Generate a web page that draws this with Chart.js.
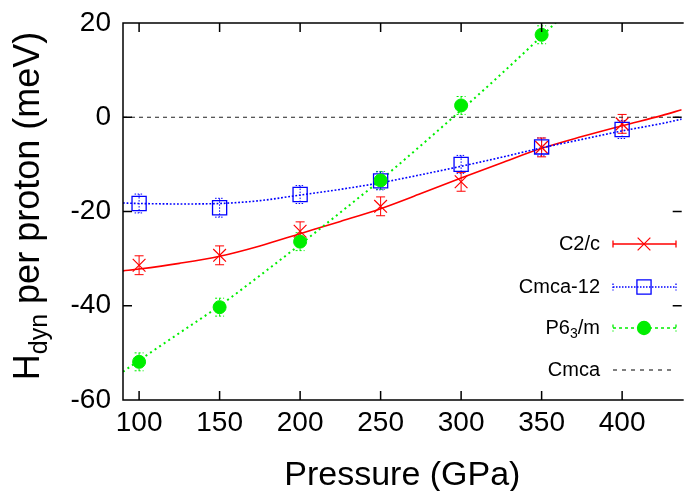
<!DOCTYPE html>
<html>
<head>
<meta charset="utf-8">
<script src="https://cdn.jsdelivr.net/npm/chart.js@4.4.1/dist/chart.umd.min.js"></script>
<style>
  html, body { margin: 0; padding: 0; background: #fff; }
</style>
</head>
<body>
<canvas id="chart" width="693" height="491"></canvas>
<script>
// measured points with error bars
const pressures = [100, 150, 200, 250, 300, 350, 400];
const c2cValues = [-31.4, -29.3, -24.2, -18.9, -13.7, -6.4, -1.4];
const c2cErrors = [2.0, 2.0, 2.0, 2.0, 2.0, 2.0, 2.0];
const cmca12Values = [-18.3, -19.2, -16.4, -13.5, -10.0, -6.3, -2.6];
const cmca12Errors = [2.0, 2.0, 1.9, 1.9, 1.9, 1.9, 1.9];
const p63mPressures = [100, 150, 200, 250, 300, 350];
const p63mValues = [-51.9, -40.3, -26.4, -13.4, 2.5, 17.5];
const p63mErrors = [1.9, 1.9, 1.9, 1.9, 1.9, 1.9];

// fitted curves
const fitPressures = [90, 100, 125, 150, 175, 200, 225, 250, 275, 300, 325, 350, 375, 400, 425, 437];
const c2cFit = [-32.6, -32.2, -31.0, -29.5, -27.3, -24.7, -22.1, -19.4, -16.2, -12.9, -9.7, -6.6, -4.1, -1.8, 0.4, 1.6];
const cmca12Fit = [-18.2, -18.3, -18.4, -18.3, -17.7, -16.5, -15.3, -13.9, -12.2, -10.4, -8.5, -6.5, -4.7, -2.9, -1.3, -0.4];
const p63mFitPressures = [90, 100, 125, 150, 175, 200, 225, 250, 275, 300, 325, 350, 360];
const p63mFit = [-54.0, -51.6, -45.8, -40.0, -33.6, -27.0, -20.2, -13.3, -6.0, 1.5, 9.2, 17.2, 20.5];

// Cmca reference level
const cmcaLevel = 0;

const xTicks = [100, 150, 200, 250, 300, 350, 400];
const yTicks = [-60, -40, -20, 0, 20];
const xMin = 90, xMax = 437;
const yMin = -60, yMax = 20;

const FONT = "'Liberation Sans', Arial, Helvetica, sans-serif";
const RED = '#ff0000';
const BLUE = '#0000ff';
const GREEN = '#00ee00';

function pts(xs, ys) {
    return xs.map((x, i) => ({ x: x, y: ys[i] }));
}

// error bars under the markers
const errorBarPlugin = {
    id: 'errorBars',
    beforeDatasetsDraw(chart) {
        const { ctx, chartArea: a, scales: { x, y } } = chart;
        ctx.save();
        ctx.beginPath();
        ctx.rect(a.left, a.top, a.right - a.left, a.bottom - a.top);
        ctx.clip();
        chart.data.datasets.forEach(ds => {
            if (!ds.errors) return;
            ctx.strokeStyle = ds.borderColor;
            ctx.lineWidth = 1;
            ctx.setLineDash(ds.errorDash || []);
            ds.data.forEach((p, i) => {
                const px = x.getPixelForValue(p.x);
                const top = y.getPixelForValue(p.y + ds.errors[i]);
                const bot = y.getPixelForValue(p.y - ds.errors[i]);
                ctx.beginPath();
                ctx.moveTo(px, top); ctx.lineTo(px, bot);
                ctx.moveTo(px - 4.5, top); ctx.lineTo(px + 4.5, top);
                ctx.moveTo(px - 4.5, bot); ctx.lineTo(px + 4.5, bot);
                ctx.stroke();
            });
        });
        ctx.restore();
    }
};

// frame with inward ticks, titles and the key
const decorPlugin = {
    id: 'decor',
    afterDraw(chart) {
        const { ctx, chartArea: a, scales: { x, y } } = chart;
        ctx.save();
        ctx.strokeStyle = '#000';
        ctx.lineWidth = 1.5;
        ctx.setLineDash([]);
        ctx.beginPath();
        ctx.moveTo(a.right + 2, a.top); ctx.lineTo(a.left, a.top);
        ctx.lineTo(a.left, a.bottom); ctx.lineTo(a.right + 2, a.bottom);
        xTicks.forEach(v => {
            const px = x.getPixelForValue(v);
            ctx.moveTo(px, a.bottom); ctx.lineTo(px, a.bottom - 9);
            ctx.moveTo(px, a.top); ctx.lineTo(px, a.top + 9);
        });
        yTicks.forEach(v => {
            const py = y.getPixelForValue(v);
            ctx.moveTo(a.left, py); ctx.lineTo(a.left + 9, py);
            ctx.moveTo(a.right, py); ctx.lineTo(a.right - 9, py);
        });
        ctx.stroke();

        // axis titles
        ctx.fillStyle = '#000';
        ctx.textBaseline = 'alphabetic';
        ctx.textAlign = 'center';
        ctx.font = '34px ' + FONT;
        ctx.fillText('Pressure (GPa)', (a.left + a.right) / 2, 485);

        ctx.save();
        ctx.translate(39, 206);
        ctx.rotate(-Math.PI / 2);
        ctx.textAlign = 'left';
        ctx.font = '36px ' + FONT;
        const wH = ctx.measureText('H').width;
        const wRest = ctx.measureText(' per proton (meV)').width;
        ctx.font = '25px ' + FONT;
        const wSub = ctx.measureText('dyn').width;
        let sx = -(wH + wSub + wRest) / 2;
        ctx.font = '36px ' + FONT;
        ctx.fillText('H', sx, 0);
        ctx.font = '25px ' + FONT;
        ctx.fillText('dyn', sx + wH, 8);
        ctx.font = '36px ' + FONT;
        ctx.fillText(' per proton (meV)', sx + wH + wSub, 0);
        ctx.restore();

        // key
        const keyRows = [244, 287, 328, 370];
        const tx = 600, l0 = 613, l1 = 676, mid = 644;
        ctx.font = '20px ' + FONT;
        ctx.textAlign = 'right';
        ctx.textBaseline = 'middle';
        ctx.fillText('C2/c', tx, keyRows[0]);
        ctx.fillText('Cmca-12', tx, keyRows[1]);
        ctx.fillText('Cmca', tx, keyRows[3]);
        ctx.textAlign = 'left';
        const wM = ctx.measureText('/m').width;
        ctx.font = '14px ' + FONT;
        const w3 = ctx.measureText('3').width;
        ctx.font = '20px ' + FONT;
        const w6 = ctx.measureText('P6').width;
        const start = tx - wM - w3 - w6;
        ctx.fillText('P6', start, keyRows[2]);
        ctx.fillText('/m', start + w6 + w3, keyRows[2]);
        ctx.font = '14px ' + FONT;
        ctx.fillText('3', start + w6, keyRows[2] + 6);

        const keyLine = (row, color, dash, width, caps) => {
            ctx.strokeStyle = color;
            ctx.lineWidth = width;
            ctx.setLineDash(dash);
            ctx.beginPath();
            ctx.moveTo(l0, row); ctx.lineTo(l1, row);
            if (caps) {
                ctx.moveTo(l0, row - 3.5); ctx.lineTo(l0, row + 3.5);
                ctx.moveTo(l1, row - 3.5); ctx.lineTo(l1, row + 3.5);
            }
            ctx.stroke();
            ctx.setLineDash([]);
        };
        keyLine(keyRows[0], RED, [], 1.3, true);
        ctx.lineWidth = 1.2;
        Chart.helpers.drawPoint(ctx, { pointStyle: 'crossRot', radius: 9, rotation: 0, borderWidth: 1.2 }, mid, keyRows[0]);
        keyLine(keyRows[1], BLUE, [1.5, 1.5], 1.3, true);
        ctx.strokeStyle = BLUE;
        ctx.fillStyle = 'rgba(0,0,0,0)';
        ctx.lineWidth = 1.3;
        Chart.helpers.drawPoint(ctx, { pointStyle: 'rect', radius: 10, rotation: 0, borderWidth: 1.3 }, mid, keyRows[1]);
        keyLine(keyRows[2], GREEN, [3, 3], 1.3, true);
        ctx.fillStyle = GREEN;
        ctx.strokeStyle = GREEN;
        Chart.helpers.drawPoint(ctx, { pointStyle: 'circle', radius: 6.5, rotation: 0, borderWidth: 1 }, mid, keyRows[2]);
        keyLine(keyRows[3], '#000', [4, 5], 1.2, false);
        ctx.restore();
    }
};

const ctx = document.getElementById('chart').getContext('2d');
new Chart(ctx, {
    type: 'scatter',
    data: {
        datasets: [
            {
                label: 'P63/m',
                data: pts(p63mPressures, p63mValues),
                errors: p63mErrors,
                errorDash: [2, 2],
                showLine: false,
                pointStyle: 'circle',
                pointRadius: 6.5,
                backgroundColor: GREEN,
                borderColor: GREEN,
                borderWidth: 1
            },
            {
                label: 'Cmca-12',
                data: pts(pressures, cmca12Values),
                errors: cmca12Errors,
                errorDash: [1.5, 1.5],
                showLine: false,
                pointStyle: 'rect',
                pointRadius: 10,
                backgroundColor: 'rgba(0,0,0,0)',
                borderColor: BLUE,
                borderWidth: 1.3
            },
            {
                label: 'C2/c',
                data: pts(pressures, c2cValues),
                errors: c2cErrors,
                showLine: false,
                pointStyle: 'crossRot',
                pointRadius: 9,
                borderColor: RED,
                backgroundColor: RED,
                borderWidth: 1.2
            },
            {
                label: 'P63/m fit',
                data: pts(p63mFitPressures, p63mFit),
                showLine: true,
                pointRadius: 0,
                borderColor: GREEN,
                borderWidth: 2,
                borderDash: [2, 3.5],
                cubicInterpolationMode: 'monotone'
            },
            {
                label: 'Cmca-12 fit',
                data: pts(fitPressures, cmca12Fit),
                showLine: true,
                pointRadius: 0,
                borderColor: BLUE,
                borderWidth: 1.6,
                borderDash: [1.8, 1.8],
                cubicInterpolationMode: 'monotone'
            },
            {
                label: 'C2/c fit',
                data: pts(fitPressures, c2cFit),
                showLine: true,
                pointRadius: 0,
                borderColor: RED,
                borderWidth: 1.6,
                cubicInterpolationMode: 'monotone'
            },
            {
                label: 'Cmca',
                data: [{ x: xMin, y: cmcaLevel }, { x: xMax, y: cmcaLevel }],
                showLine: true,
                pointRadius: 0,
                borderColor: '#222',
                borderWidth: 1.2,
                borderDash: [4, 4]
            }
        ]
    },
    options: {
        responsive: false,
        animation: false,
        layout: { padding: { top: 23, right: 0, left: 0, bottom: 0 } },
        plugins: {
            legend: { display: false },
            tooltip: { enabled: false }
        },
        scales: {
            x: {
                type: 'linear',
                min: xMin,
                max: xMax,
                afterBuildTicks: s => { s.ticks = xTicks.map(v => ({ value: v })); },
                afterFit: s => { s.height = 91; s.paddingLeft = 0; s.paddingRight = 0; },
                grid: { display: false, drawTicks: false },
                border: { display: false },
                ticks: {
                    color: '#000',
                    padding: 6,
                    maxRotation: 0,
                    autoSkip: false,
                    font: { size: 28, family: FONT }
                }
            },
            y: {
                type: 'linear',
                min: yMin,
                max: yMax,
                afterBuildTicks: s => { s.ticks = yTicks.map(v => ({ value: v })); },
                afterFit: s => { s.width = 123; s.paddingTop = 0; s.paddingBottom = 0; },
                grid: { display: false, drawTicks: false },
                border: { display: false },
                ticks: {
                    color: '#000',
                    padding: 12,
                    font: { size: 28, family: FONT }
                }
            }
        }
    },
    plugins: [errorBarPlugin, decorPlugin]
});
</script>
</body>
</html>
